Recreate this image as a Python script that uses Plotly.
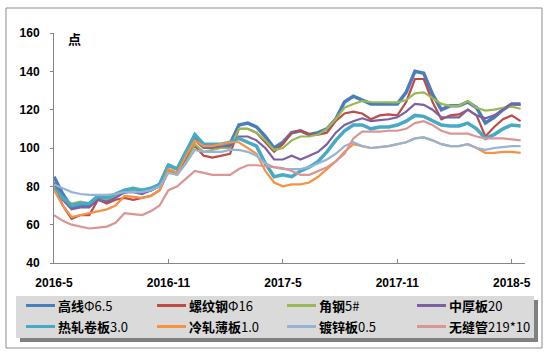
import plotly.graph_objects as go

weeks = [2 * i for i in range(54)]
tick_weeks = [0, 26, 52, 78, 104]
tick_labels = ["2016-5", "2016-11", "2017-5", "2017-11", "2018-5"]
y_ticks = [40, 60, 80, 100, 120, 140, 160]

gaoxian = [85, 76, 69, 70, 70, 74, 72, 75, 77, 78, 77, 78, 81, 91, 89, 98, 105, 101, 101, 101,
           102, 112, 113, 111, 106, 100, 103, 108, 109, 107, 108, 110, 115, 124, 127, 125, 123, 123,
           123, 123, 129, 140, 139, 128, 120, 122, 122, 124, 121, 113, 116, 120, 123, 123]
luowen = [80, 70, 63, 65, 65, 73, 71, 73, 74, 73, 74, 75, 78, 88, 87, 95, 101, 96, 95, 96,
          97, 110, 110, 108, 103, 98, 102, 108, 109, 107, 107, 108, 114, 118, 119, 118, 115, 117,
          117.5, 117, 124, 136, 136, 124, 115, 117, 117.5, 120, 117, 106, 111, 115, 117, 114]
jiaogang = [80, 74, 71, 72, 71, 73, 73, 75, 77, 78, 77, 78, 80, 88, 86, 93, 102, 98, 99, 100,
            100, 110, 110, 108, 104, 99, 100, 104, 106, 106, 107, 110, 115, 121, 123, 124.5, 124, 124,
            123.8, 123.8, 125, 128.5, 129, 126, 123, 122, 122, 124.5, 121, 119.5, 120, 121, 121.6, 120.5]
zhonghou = [82, 73, 68, 69, 69, 73, 72, 74, 77, 77, 76, 78, 80, 89, 87, 95, 104, 100, 100, 101,
            101, 106, 106, 104, 100, 94, 94, 96, 94, 96, 98, 102, 108, 112, 114, 115.5, 114, 114.5,
            115, 116, 119, 123, 122.5, 120, 116, 116, 116, 120, 117, 115.5, 117, 120, 123, 122.5]
rezha = [79, 74, 70, 71, 71, 75, 74, 76, 78, 79, 78, 79, 81, 91, 89, 98, 107, 102, 102, 102,
         103, 105, 103, 101, 92, 85, 86, 85, 88, 90, 93, 98, 104, 109, 112, 112, 110, 111,
         111, 112, 114, 117, 116.5, 114, 112, 111.5, 111.5, 113, 110, 105, 107, 110, 112, 111.5]
lengzha = [78, 70, 64, 65, 66, 67, 68, 70, 75, 74.5, 74, 75, 78, 89, 87, 96, 104, 101, 101, 102,
           103, 103, 100, 97, 88, 82, 80, 81, 81, 82, 85, 89, 93, 98, 102, 101, 100, 100.5,
           101, 102, 103, 105, 105.5, 104, 102, 101, 101, 102, 100, 97.5, 97.5, 98, 98, 97.5]
duxin = [81, 79, 77, 76, 75.5, 75.5, 75.5, 76, 77, 77, 77, 78, 80, 87, 86, 92, 99, 98, 98, 98,
         99, 99, 98, 96, 92, 90, 89, 89, 89, 90, 92, 94, 97, 101, 103, 101, 100, 100.5,
         101, 102, 103, 105, 105.5, 104, 102, 101, 101, 102, 100, 99, 100, 100.5, 101, 101]
wufeng = [65, 62, 60, 59, 58, 58.5, 59, 61, 66, 65.5, 65, 67, 70, 78, 80, 84, 88, 87, 86, 86,
          86, 89, 91, 91, 90.5, 90, 89.5, 88, 86, 86, 88, 90, 93, 97, 105, 108.5, 108.5, 108.5,
          109, 109, 110, 113, 114, 112, 109, 107.5, 107.5, 107.5, 106, 105, 105, 105, 104.5, 104]

series = [
    ("<b>高线</b>Φ6.5", gaoxian, "#4A7EBB", 3.5),
    ("<b>螺纹钢</b>Φ16", luowen, "#BE4B48", 2.2),
    ("<b>角钢</b>5#", jiaogang, "#98B954", 2.2),
    ("<b>中厚板</b>20", zhonghou, "#7D60A0", 2.2),
    ("<b>热轧卷板</b>3.0", rezha, "#46AAC5", 3.5),
    ("<b>冷轧薄板</b>1.0", lengzha, "#F69240", 2.2),
    ("<b>镀锌板</b>0.5", duxin, "#95B3D7", 2.2),
    ("<b>无缝管</b>219*10", wufeng, "#D99694", 2.2),
]

fig = go.Figure()
for name, vals, color, w in series:
    fig.add_trace(go.Scatter(x=weeks, y=vals, mode="lines", name=name,
                             line=dict(color=color, width=w), showlegend=False))

W, H = 551, 354
L, R, T, B = 54, 26, 33, 91
pw, ph = W - L - R, H - T - B

def px(x):
    return (x - L) / pw

def py(y):
    return (H - B - y) / ph

fig.update_layout(
    width=W, height=H,
    margin=dict(l=L, r=R, t=T, b=B, autoexpand=False),
    paper_bgcolor="white", plot_bgcolor="white",
    font=dict(family="Liberation Sans, Arial, Noto Sans CJK SC", size=12, color="#000"),
    showlegend=False,
    xaxis=dict(range=[0, 107], showgrid=False, zeroline=False,
               showline=True, linecolor="#868686", linewidth=1,
               tickmode="array", tickvals=tick_weeks, ticktext=tick_labels,
               ticks="inside", ticklen=4, tickcolor="#868686",
               tickfont=dict(size=12, color="#000", weight="bold"), ticklabelstandoff=9),
    yaxis=dict(range=[40, 160], showgrid=False, zeroline=False,
               showline=True, linecolor="#868686", linewidth=1,
               tickmode="array", tickvals=y_ticks,
               ticks="outside", ticklen=3, tickcolor="#868686",
               tickfont=dict(size=12, color="#000", weight="bold"), ticklabelstandoff=8),
)

# outer chart border
fig.add_shape(type="rect", xref="paper", yref="paper",
              x0=px(6), x1=px(542), y0=py(348), y1=py(8),
              line=dict(color="#8C8C8C", width=1), fillcolor="rgba(0,0,0,0)", layer="below")
# legend shadow + box
fig.add_shape(type="rect", xref="paper", yref="paper",
              x0=px(20), x1=px(538), y0=py(342), y1=py(300),
              line=dict(width=0), fillcolor="#808080", layer="above")
fig.add_shape(type="rect", xref="paper", yref="paper",
              x0=px(16), x1=px(534), y0=py(338), y1=py(296),
              line=dict(width=0), fillcolor="#DADADA", layer="above")

col_x = [26, 157, 287, 417]
row_y = [305.5, 326.5]
for k, (name, vals, color, w) in enumerate(series):
    cx = col_x[k % 4]
    ry = row_y[k // 4]
    fig.add_shape(type="line", xref="paper", yref="paper",
                  x0=px(cx), x1=px(cx + 29), y0=py(ry), y1=py(ry),
                  line=dict(color=color, width=3), layer="above")
    fig.add_annotation(text=name, xref="paper", yref="paper", x=px(cx + 30), y=py(ry),
                       xanchor="left", yanchor="middle", showarrow=False,
                       font=dict(family="Noto Sans CJK SC", size=13, color="#000"))

fig.add_annotation(text="<b>点</b>", xref="paper", yref="paper", x=px(66), y=py(38),
                   xanchor="left", yanchor="middle", showarrow=False,
                   font=dict(family="Noto Sans CJK SC", size=13, color="#000"))

fig.write_html("out.html")
